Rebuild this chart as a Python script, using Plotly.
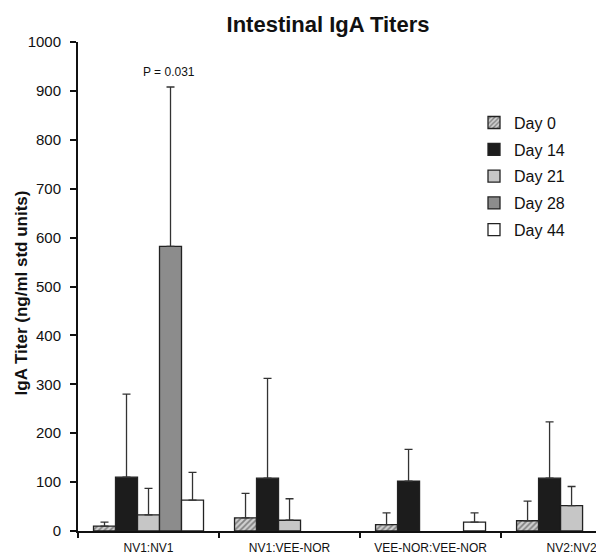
import plotly.graph_objects as go

groups = ["NV1:NV1", "NV1:VEE-NOR", "VEE-NOR:VEE-NOR", "NV2:NV2"]
series_names = ["Day 0", "Day 14", "Day 21", "Day 28", "Day 44"]

day0 = [10, 27, 13, 21]
day14 = [110, 108, 102, 108]
day21 = [33, 22, None, 52]
day28 = [582, None, None, None]
day44 = [63, None, 18, None]

day0_upper = [18, 77, 37, 61]
day14_upper = [280, 312, 167, 223]
day21_upper = [87, 66, None, 91]
day28_upper = [908, None, None, None]
day44_upper = [120, None, 37, None]

values = [day0, day14, day21, day28, day44]
uppers = [day0_upper, day14_upper, day21_upper, day28_upper, day44_upper]

fills = ["#bdbdbd", "#1c1c1c", "#c6c6c6", "#8c8c8c", "#ffffff"]

# page is rendered with an 8px body margin: work in figure coordinates
W, H = 596, 547
L, T, B = 70, 34, 21
PW, PH = W - L, H - T - B

fig = go.Figure()
for i, (name, vals, ups) in enumerate(zip(series_names, values, uppers)):
    err = [(u - v) if (u is not None and v is not None) else None for v, u in zip(vals, ups)]
    marker = dict(color=fills[i], line=dict(color="#222222", width=1.3))
    if i == 0:
        marker["pattern"] = dict(shape="/", fgcolor="#333333", bgcolor="#d0d0d0", size=4, solidity=0.45)
    fig.add_trace(go.Bar(
        name=name,
        legendgroup=name,
        x=groups,
        y=vals,
        marker=marker,
        error_y=dict(type="data", symmetric=False, array=err, arrayminus=[0] * len(err),
                     color="#333333", thickness=1.3, width=4),
    ))

fig.add_annotation(x=0, y=908, xref="x", yref="y", text="P = 0.031", showarrow=False,
                   yshift=15, xshift=20, font=dict(size=12, color="#111111"))

fig.add_annotation(x=(13 - L) / PW, y=1 - (287 - T) / PH, xref="paper", yref="paper",
                   text="<b>IgA Titer (ng/ml std units)</b>", textangle=-90, showarrow=False,
                   font=dict(size=17, color="#111111"), xanchor="center", yanchor="middle")

fig.update_layout(
    width=W, height=H,
    margin=dict(l=L, r=0, t=T, b=B),
    paper_bgcolor="white", plot_bgcolor="white",
    font=dict(family="Liberation Sans, Arial, sans-serif", color="#111111"),
    title=dict(text="<b>Intestinal IgA Titers</b>", x=320 / W, xanchor="center",
               y=1 - 16 / H, yanchor="middle", font=dict(size=22, color="#111111")),
    barmode="group", bargap=0.22, bargroupgap=0,
    showlegend=True,
    legend=dict(x=(466 - L) / PW, y=1 - (98 - T) / PH, xanchor="left", yanchor="top",
                font=dict(size=16), bgcolor="rgba(0,0,0,0)", tracegroupgap=3),
    xaxis=dict(type="category", range=[-0.5, 3.23], showline=True, linecolor="#111111", linewidth=2,
               ticks="outside", tickson="boundaries", ticklen=5, tickwidth=2, tickcolor="#111111",
               ticklabelstandoff=5, tickfont=dict(size=12), showgrid=False, zeroline=False),
    yaxis=dict(range=[0, 1000], dtick=100, showline=True, linecolor="#111111", linewidth=2,
               ticks="outside", ticklen=6, tickwidth=2, tickcolor="#111111", ticklabelstandoff=6,
               tickfont=dict(size=15), showgrid=False, zeroline=False),
)

fig.write_html("out.html")
